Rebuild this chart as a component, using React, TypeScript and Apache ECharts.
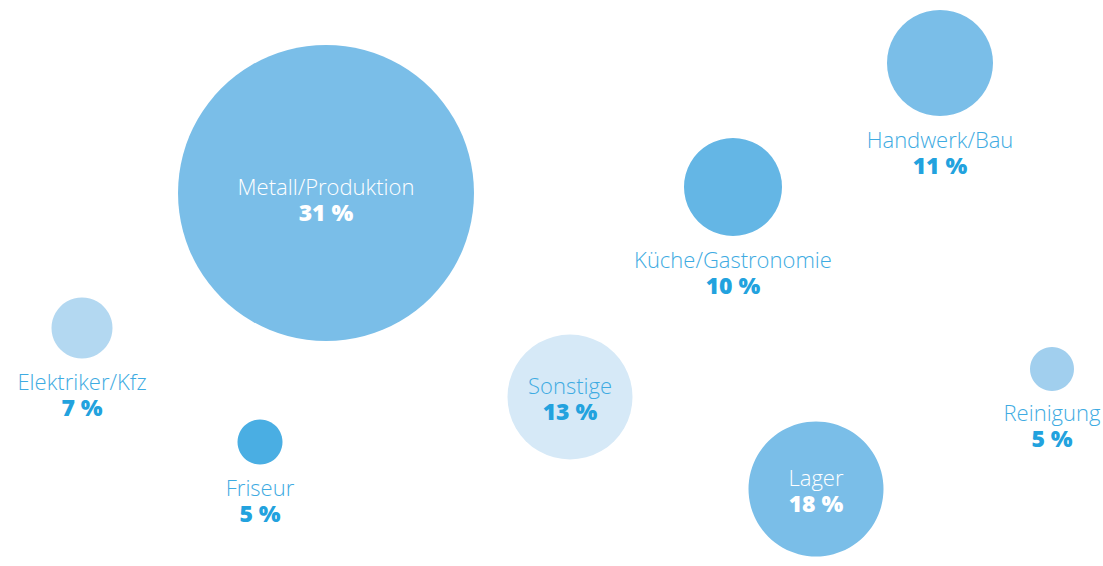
import React, { useEffect, useRef } from "react";
import * as echarts from "echarts";

const categories = [
  "Metall/Produktion",
  "Handwerk/Bau",
  "Küche/Gastronomie",
  "Elektriker/Kfz",
  "Friseur",
  "Sonstige",
  "Lager",
  "Reinigung",
];
const percents = [31, 11, 10, 7, 5, 13, 18, 5];
// bubble positions (abstract layout units) and bubble diameters (same units)
const posX = [32.6, 94.0, 73.3, 8.2, 26.0, 57.0, 81.6, 105.2];
const posY = [19.3, 6.3, 18.7, 32.8, 44.2, 39.7, 48.9, 36.9];
const bubble = [29.6, 10.6, 9.8, 6.1, 4.5, 12.5, 13.5, 4.4];
const inside = [true, false, false, false, false, true, true, false];
const colors = ["#7abee8", "#7abee8", "#64b6e5", "#b3d8f1", "#4aaee3", "#d6e9f7", "#7abee8", "#a1cfee"];

export default function App() {
  const ref = useRef<HTMLDivElement>(null);
  useEffect(() => {
    document.body.style.margin = "0";
    const chart = echarts.init(ref.current!, null, { renderer: "svg" });
    const font = "'Open Sans', Lato, sans-serif";
    const data = categories.map((name, i) => {
      const isIn = inside[i];
      const white = isIn && i !== 5;
      return {
        name,
        value: [posX[i], posY[i], bubble[i], percents[i]],
        itemStyle: { color: colors[i], opacity: 1 },
        label: {
          show: true,
          position: isIn ? "inside" : "bottom",
          distance: i === 7 ? 7 : 9,
          offset: i === 0 ? [0, 5] : [0, 0],
          formatter: `{n|${name}}\n{p|${percents[i]} %}`,
          rich: {
            n: {
              fontFamily: font,
              fontSize: 22,
              fontWeight: 300,
              lineHeight: 27,
              color: white ? "#ffffff" : "#3eabe2",
            },
            p: {
              fontFamily: font,
              fontSize: 23,
              fontWeight: 800,
              lineHeight: 25,
              color: white ? "#ffffff" : "#22a2de",
            },
          },
        },
      };
    });
    chart.setOption({
      animation: false,
      grid: { left: 0, right: 0, top: 0, bottom: 0 },
      xAxis: { type: "value", min: 0, max: 110.3, show: false },
      yAxis: { type: "value", min: 0, max: 56.6, inverse: true, show: false },
      series: [
        {
          type: "scatter",
          data,
          symbol: "circle",
          symbolSize: (v: number[]) => v[2] * 10,
          emphasis: { disabled: true },
          silent: true,
        },
      ],
    });
    return () => chart.dispose();
  }, []);
  return <div ref={ref} style={{ width: 1103, height: 566 }} />;
}
